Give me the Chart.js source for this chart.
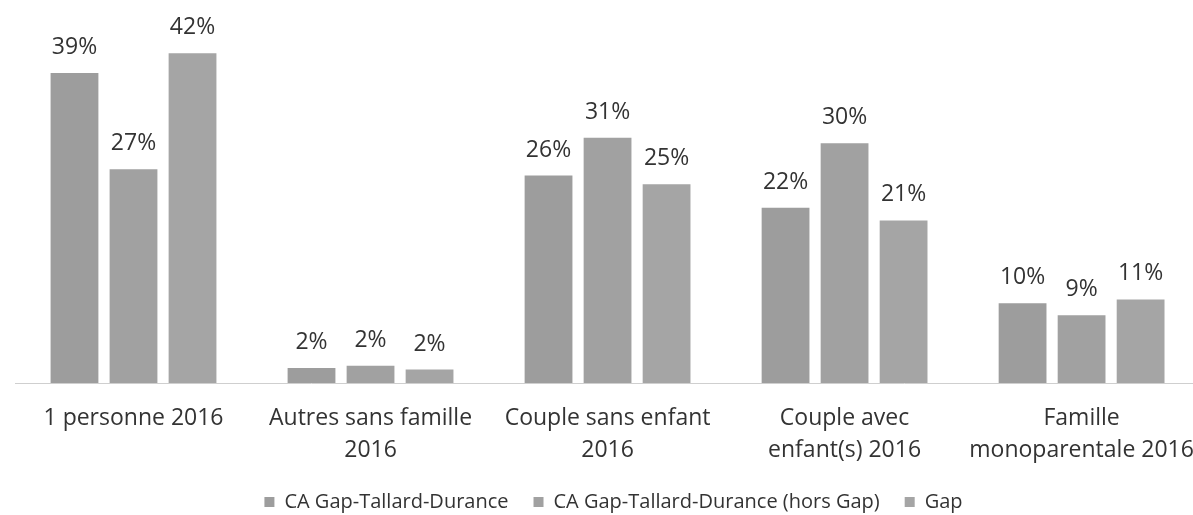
<!DOCTYPE html>
<html>
<head>
<meta charset="utf-8">
<script src="https://cdn.jsdelivr.net/npm/chart.js@4"></script>
<style>
  body { margin: 0; background: #fff; overflow: hidden; }
  /* a bit wider and taller than the window: the source chart runs past its right edge */
  #wrap { position: absolute; left: 0; top: 0; width: 1213px; height: 522px; }
</style>
</head>
<body>
<div id="wrap"><canvas id="myChart"></canvas></div>
<script>
// categories (multi-line labels as in the source)
const categories = [
  ['1 personne 2016'],
  ['Autres sans famille', '2016'],
  ['Couple sans enfant', '2016'],
  ['Couple avec', 'enfant(s) 2016'],
  ['Famille', 'monoparentale 2016']
];
const seriesNames = ['CA Gap-Tallard-Durance', 'CA Gap-Tallard-Durance (hors Gap)', 'Gap'];

// shares in %
const caGtd = [39.3, 1.9, 26.3, 22.2, 10.1];
const caGtdHorsGap = [27.1, 2.2, 31.1, 30.4, 8.6];
const gap = [41.8, 1.7, 25.2, 20.6, 10.6];

const barColors = ['#9d9d9d', '#a1a1a1', '#a5a5a5'];
const fontFamily = '"Open Sans", "Noto Sans", sans-serif';
const textColor = '#333333';

// draw the % value above each bar
const valueLabels = {
  id: 'valueLabels',
  afterDatasetsDraw(chart) {
    const ctx = chart.ctx;
    ctx.save();
    ctx.font = '23px ' + fontFamily;
    ctx.fillStyle = textColor;
    ctx.textAlign = 'center';
    ctx.textBaseline = 'alphabetic';
    chart.data.datasets.forEach((ds, i) => {
      chart.getDatasetMeta(i).data.forEach((bar, j) => {
        ctx.fillText(Math.round(ds.data[j]) + '%', bar.x, bar.y - 19);
      });
    });
    ctx.restore();
  }
};

new Chart('myChart', {
  type: 'bar',
  data: {
    labels: categories,
    datasets: [
      { label: seriesNames[0], data: caGtd, backgroundColor: barColors[0] },
      { label: seriesNames[1], data: caGtdHorsGap, backgroundColor: barColors[1] },
      { label: seriesNames[2], data: gap, backgroundColor: barColors[2] }
    ]
  },
  options: {
    responsive: true,
    maintainAspectRatio: false,
    animation: false,
    categoryPercentage: 0.747,
    barPercentage: 0.81,
    layout: { padding: { top: 28, left: 15, right: 1, bottom: 0 } },
    scales: {
      x: {
        grid: { display: false, drawTicks: false },
        border: { display: true, color: '#cfcfcf', width: 1 },
        ticks: {
          color: textColor,
          padding: 19,
          maxRotation: 0,
          autoSkip: false,
          font: { family: fontFamily, size: 23, lineHeight: 1.39 }
        },
        // chart.js reserves the tick padding twice, keep just what the labels need
        afterFit(scale) { scale.height = 84; }
      },
      y: {
        display: false,
        min: 0,
        max: 45
      }
    },
    plugins: {
      legend: {
        position: 'bottom',
        labels: {
          color: textColor,
          boxWidth: 10,
          boxHeight: 10,
          padding: 25,
          font: { family: fontFamily, size: 20 }
        }
      },
      tooltip: { enabled: false }
    }
  },
  plugins: [valueLabels]
});
</script>
</body>
</html>
